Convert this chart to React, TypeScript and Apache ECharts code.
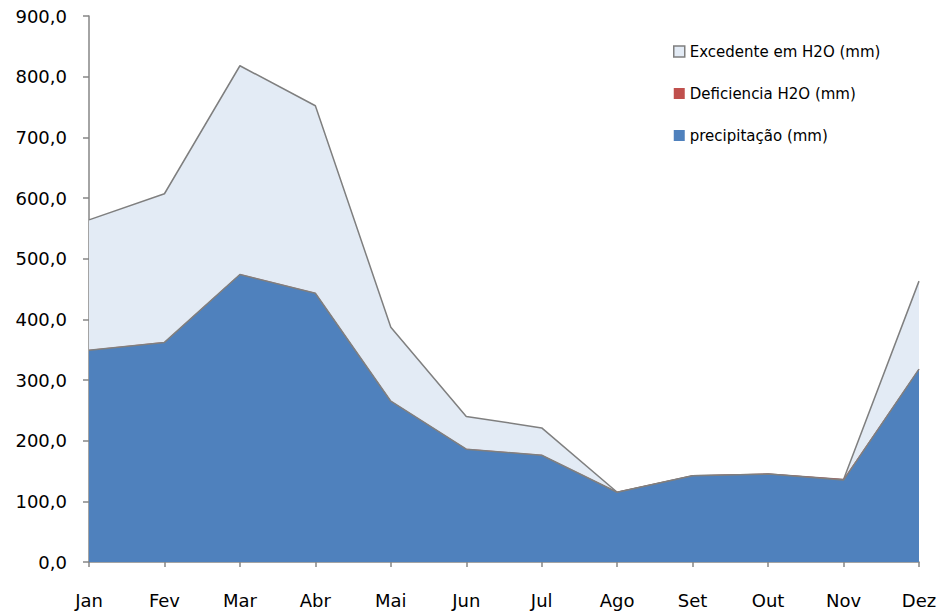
import React, { useEffect, useRef } from "react";
import * as echarts from "echarts";

const months = ["Jan", "Fev", "Mar", "Abr", "Mai", "Jun", "Jul", "Ago", "Set", "Out", "Nov", "Dez"];
const precipitacao = [349, 362, 474, 443, 265, 186, 176, 115, 142, 145, 135, 318];
const deficiencia = [0, 0, 0, 0, 0, 0, 0, 0, 0, 0, 1, 0];
const excedente = [215, 245, 344, 309, 122, 54, 45, 0, 0, 0, 0, 145];

const FONT = "DejaVu Sans";

export default function App() {
  const ref = useRef<HTMLDivElement>(null);
  useEffect(() => {
    if (!ref.current) return;
    const chart = echarts.init(ref.current, undefined, { renderer: "svg" });
    chart.setOption({
      animation: false,
      backgroundColor: "#ffffff",
      grid: { left: 89, right: 25, top: 16, bottom: 53, containLabel: false },
      legend: {
        orient: "vertical",
        left: 668,
        top: 39,
        icon: "rect",
        itemWidth: 11,
        itemHeight: 11,
        itemGap: 27,
        textStyle: { fontFamily: FONT, fontSize: 15, color: "#000" },
        data: [
          { name: "Excedente em H2O (mm)", itemStyle: { color: "#E3EBF5", borderColor: "#7F7F7F", borderWidth: 1.5 } },
          { name: "Deficiencia H2O (mm)", itemStyle: { color: "#C0504D", borderWidth: 0 } },
          { name: "precipitação (mm)", itemStyle: { color: "#4F81BD", borderWidth: 0 } },
        ],
      },
      xAxis: {
        type: "category",
        data: months,
        boundaryGap: false,
        axisLine: { lineStyle: { color: "#868686", width: 1.5 } },
        axisTick: { show: true, length: 5, lineStyle: { color: "#868686", width: 1.5 } },
        axisLabel: { fontFamily: FONT, fontSize: 18, color: "#000", margin: 29 },
        splitLine: { show: false },
      },
      yAxis: {
        type: "value",
        min: 0,
        max: 900,
        interval: 100,
        axisLine: { show: true, lineStyle: { color: "#868686", width: 1.5 } },
        axisTick: { show: true, length: 6, lineStyle: { color: "#868686", width: 1.5 } },
        axisLabel: {
          fontFamily: FONT,
          fontSize: 18,
          color: "#000",
          margin: 22,
          formatter: (v: number) => v.toFixed(1).replace(".", ","),
        },
        splitLine: { show: false },
      },
      series: [
        {
          name: "precipitação (mm)",
          type: "line",
          stack: "t",
          data: precipitacao,
          symbol: "none",
          lineStyle: { color: "#7F7F7F", width: 1.5 },
          itemStyle: { color: "#4F81BD" },
          areaStyle: { color: "#4F81BD", opacity: 1 },
          z: 3,
        },
        {
          name: "Deficiencia H2O (mm)",
          type: "line",
          stack: "t",
          data: deficiencia,
          symbol: "none",
          lineStyle: { color: "#C0504D", width: 0.8 },
          itemStyle: { color: "#C0504D" },
          areaStyle: { color: "#C0504D", opacity: 1 },
          z: 2,
        },
        {
          name: "Excedente em H2O (mm)",
          type: "line",
          stack: "t",
          data: excedente,
          symbol: "none",
          lineStyle: { color: "#7F7F7F", width: 1.5 },
          itemStyle: { color: "#E3EBF5" },
          areaStyle: { color: "#E3EBF5", opacity: 1 },
          z: 1,
        },
      ],
    });
    return () => chart.dispose();
  }, []);
  return <div ref={ref} style={{ width: 944, height: 615, position: "absolute", left: 0, top: 0 }} />;
}
